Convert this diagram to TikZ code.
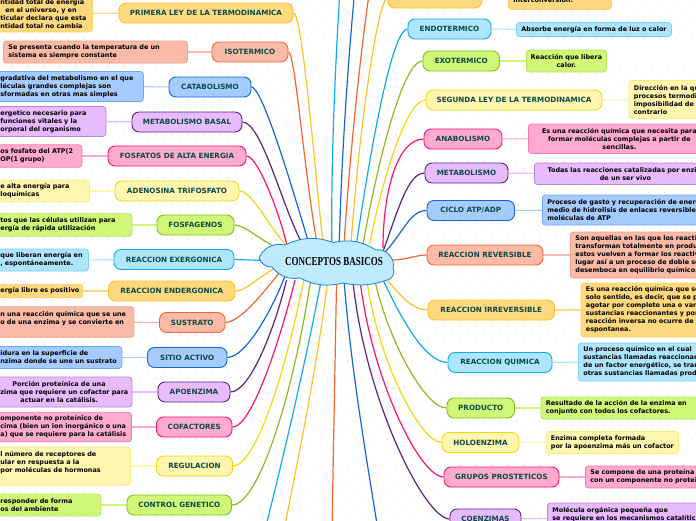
\documentclass[tikz,border=0pt]{standalone}
\usepackage{fontspec}
\usepackage{xcolor}
\usepackage{tikz}
\usetikzlibrary{backgrounds}
\setmainfont{DejaVu Sans}
\newfontfamily\cloudfont{Liberation Serif}

\definecolor{cOrange}{HTML}{FFC125}
\definecolor{cOrangeL}{HTML}{FFD97F}
\definecolor{cSalmon}{HTML}{F5652F}
\definecolor{cSalmonL}{HTML}{F9BBA7}
\definecolor{cBlue}{HTML}{1466D8}
\definecolor{cBlueL}{HTML}{A6CBFF}
\definecolor{cPurple}{HTML}{5C2180}
\definecolor{cPurpleL}{HTML}{E8BBFF}
\definecolor{cPink}{HTML}{FF1177}
\definecolor{cPinkL}{HTML}{FFABD0}
\definecolor{cYellow}{HTML}{F2D80F}
\definecolor{cYellowL}{HTML}{FFF6AF}
\definecolor{cGreen}{HTML}{8ABB1F}
\definecolor{cGreenL}{HTML}{D0F878}
\definecolor{cCyan}{HTML}{11AAEE}
\definecolor{cCyanL}{HTML}{AFE6FF}
\definecolor{cText}{HTML}{0B4A45}

\tikzset{
  topic/.style={draw=#1, fill=#1L, line width=0.9pt, rounded corners=7pt, inner sep=0pt,
    minimum height=20pt, text=cText, font=\fontsize{7.2}{8}\selectfont\bfseries},
  leafbox/.style={draw=#1!35!#1L, fill=#1L, line width=0.8pt, rounded corners=3pt, inner xsep=5pt, inner ysep=0pt,
    anchor=west, text=black, font=\fontsize{6.45}{8}\selectfont\bfseries},
  leaf/.style={leafbox=#1, align=left, execute at begin node={\hyphenpenalty=10000\rightskip=-40pt plus 1fil}},
  leafmid/.style={leafbox=#1, align=center, execute at begin node={\hyphenpenalty=10000}},
  branch/.style={draw=#1, line width=1.2pt},
  twig/.style={draw=#1L, line width=1.1pt}
}

\begin{document}
\begin{tikzpicture}[x=1pt, y=-1pt]
    \useasboundingbox (0,0) rectangle (696,520);
    % left side
    \node[topic=cOrange, minimum width=174pt] (T1) at (206,13) {PRIMERA LEY DE LA TERMODINAMICA};
    \node[leaf=cOrange, text width=87pt, minimum height=37pt] (L1) at (-5,13.5) {ntidad total de energía\\\hspace*{5pt}en el universo, y en\\ticular declara que esta\\ntidad total no cambia};
    \node[topic=cSalmon, minimum width=76pt] (T2) at (250,52) {ISOTERMICO};
    \node[leaf=cSalmon, text width=174pt, minimum height=22pt] (L2) at (3,52) {Se presenta cuando la temperatura de un\\sistema es siempre constante};
    \node[topic=cBlue, minimum width=82pt] (T3) at (210,87) {CATABOLISMO};
    \node[leaf=cBlue, text width=138pt, minimum height=30pt] (L3) at (-5,86.5) {gradativa del metabolismo en el que\\léculas grandes complejas son\\sformadas en otras mas simples};
    \node[topic=cPurple, minimum width=110pt] (T4) at (187,122) {METABOLISMO BASAL};
    \node[leaf=cPurple, text width=100.5pt, minimum height=30pt] (L4) at (-5,121.5) {ergetico necesario para\\funciones vitales y la\\orporal del organismo};
    \node[topic=cPink, minimum width=138pt] (T5) at (177,156) {FOSFATOS DE ALTA ENERGIA};
    \node[leaf=cPink, text width=76.5pt, minimum height=22.5pt] (L5) at (-5,156) {os fosfato del ATP(2\\OP(1 grupo)};
    \node[topic=cYellow, minimum width=124pt] (T6) at (177,191) {ADENOSINA TRIFOSFATO};
    \node[leaf=cYellow, text width=84pt, minimum height=22pt] (L6) at (-5,191) {e alta energía para\\loquímicas};
    \node[topic=cGreen, minimum width=77pt] (T7) at (195.5,225) {FOSFAGENOS};
    \node[leaf=cGreen, text width=126.5pt, minimum height=22.5pt] (L7) at (-5,225) {tos que las células utilizan para\\ergía de rápida utilización};
    \node[topic=cCyan, minimum width=120pt] (T8) at (174,259.5) {REACCION EXERGONICA};
    \node[leaf=cCyan, text width=83pt, minimum height=22pt] (L8) at (-5,260) {que liberan energía en\\, espontáneamente.};
    \node[topic=cOrange, minimum width=126.5pt] (T9) at (171.75,291) {REACCION ENDERGONICA};
    \node[leaf=cOrange, text width=77.5pt, minimum height=13.5pt] (L9) at (-5,291) {ergía libre es positivo};
    \node[topic=cSalmon, minimum width=65.5pt] (T10) at (192.25,322.5) {SUSTRATO};
    \node[leaf=cSalmon, text width=128.5pt, minimum height=30.5pt] (L10) at (-5,322) {n una reacción química que se une\\o de una enzima y se convierte en\\~};
    \node[topic=cBlue, minimum width=79.5pt] (T11) at (187.25,357.5) {SITIO ACTIVO};
    \node[leaf=cBlue, text width=116.5pt, minimum height=22pt] (L11) at (-5,357.5) {idura en la superficie de\\nzima donde se une un sustrato};
    \node[topic=cPurple, minimum width=72pt] (T12) at (194,392) {APOENZIMA};
    \node[leaf=cPurple, text width=126.5pt, minimum height=30pt] (L12) at (-5,392) {\hspace*{12pt}Porción proteínica de una\\zima que requiere un cofactor para\\\hspace*{20pt}actuar en la catálisis.};
    \node[topic=cPink, minimum width=75.5pt] (T13) at (194.25,427) {COFACTORES};
    \node[leaf=cPink, text width=126pt, minimum height=29.5pt] (L13) at (-5,427) {omponente no proteínico de\\cima (bien un ion inorgánico o una\\a) que se requiere para la catálisis};
    \node[topic=cYellow, minimum width=76pt] (T14) at (194.5,466) {REGULACION};
    \node[leaf=cYellow, text width=125pt, minimum height=38pt] (L14) at (-5,466) {l número de receptores de\\ular en respuesta a la\\por moléculas de hormonas\\~};
    \node[topic=cGreen, minimum width=104.5pt] (T15) at (179.25,505) {CONTROL GENETICO};
    \node[leaf=cGreen, text width=95.5pt, minimum height=22pt] (L15) at (-5,505) {responder de forma\\os del ambiente};
    % right side
    \node[topic=cOrange, minimum width=94pt] (R0) at (435,-2) {TERMODINAMICA};
    \node[leaf=cOrange, text width=93pt, minimum height=29.5pt] (M0) at (508,-5.25) {~\\~\\interconversión.};
    \node[topic=cCyan, minimum width=83pt] (R1) at (449.5,29) {ENDOTERMICO};
    \node[leaf=cCyan, text width=145pt, minimum height=14pt] (M1) at (516,29.5) {Absorbe energía en forma de luz o calor};
    \node[topic=cGreen, minimum width=76.5pt] (R2) at (461.25,61) {EXOTERMICO};
    \node[leafmid=cGreen, text width=74pt, inner xsep=3pt, minimum height=22pt] (M2) at (526,61) {Reacción que libera\\calor.};
    \node[topic=cYellow, minimum width=176pt] (R3) at (514,100) {SEGUNDA LEY DE LA TERMODINAMICA};
    \node[leaf=cYellow, text width=100pt, minimum height=38pt] (M3) at (628.5,99.5) {Dirección en la qu\\procesos termodi\\imposibilidad de\\contrario};
    \node[topic=cPink, minimum width=78pt] (R4) at (463,139) {ANABOLISMO};
    \node[leafmid=cPink, text width=172pt, minimum height=29.5pt] (M4) at (528,138.75) {Es una reacción química que necesita para\\formar moléculas complejas a partir de\\sencillas.};
    \node[topic=cPurple, minimum width=83pt] (R5) at (466.5,173) {METABOLISMO};
    \node[leafmid=cPurple, text width=172pt, minimum height=21.5pt] (M5) at (534,173.75) {Todas las reacciones catalizadas por enzim\\de un ser vivo};
    \node[topic=cBlue, minimum width=87.5pt] (R6) at (470.75,210.5) {CICLO ATP/ADP};
    \node[leaf=cBlue, text width=160pt, minimum height=30pt] (M6) at (542,210) {Proceso de gasto y recuperación de energ\\medio de hidrolisis de enlaces reversible\\moléculas de ATP};
    \node[topic=cSalmon, minimum width=116pt] (R7) at (485,255) {REACCION REVERSIBLE};
    \node[leaf=cSalmon, text width=140pt, minimum height=46pt] (M7) at (570,255) {Son aquellas en las que los reacti\\transforman totalmente en produ\\estos vuelven a formar los reactiv\\lugar así a un proceso de doble se\\desemboca en equilibrio químico.};
    \node[topic=cOrange, minimum width=126.5pt] (R8) at (491.25,310) {REACCION IRREVERSIBLE};
    \node[leaf=cOrange, text width=130pt, minimum height=54pt] (M8) at (580.5,310) {Es una reacción química que se\\solo sentido, es decir, que se p\\agotar por completo una o vari\\sustancias reaccionantes y por\\reacción inversa no ocurre de\\espontanea.};
    \node[topic=cCyan, minimum width=104pt] (R9) at (500,362.5) {REACCION QUIMICA};
    \node[leaf=cCyan, text width=130pt, minimum height=38pt] (M9) at (578,362) {Un proceso químico en el cual\\sustancias llamadas reaccionan\\de un factor energético, se tran\\otras sustancias llamadas prod};
    \node[topic=cGreen, minimum width=67.5pt] (R10) at (480.75,408) {PRODUCTO};
    \node[leaf=cGreen, text width=170pt, minimum height=22pt] (M10) at (540.5,408) {Resultado de la acción de la enzima en\\conjunto con todos los cofactores.};
    \node[topic=cYellow, minimum width=77pt] (R11) at (480.5,442.5) {HOLOENZIMA};
    \node[leaf=cYellow, text width=122.5pt, minimum height=22pt] (M11) at (545.5,442.5) {Enzima completa formada\\por la apoenzima más un cofactor};
    \node[topic=cPink, minimum width=115pt] (R12) at (501.5,477) {GRUPOS PROSTETICOS};
    \node[leaf=cPink, text width=120pt, minimum height=22pt] (M12) at (585,477) {Se compone de una proteína\\con un componente no protei};
    \node[topic=cPurple, minimum width=71pt] (R13) at (485.5,519) {COENZIMAS};
    \node[leaf=cPurple, text width=160pt, minimum height=30pt] (M13) at (547,518) {Molécula orgánica pequeña que\\se requiere en los mecanismos catalític\\~};
    % centre
    \node[inner sep=0pt, minimum width=90pt, minimum height=36pt, text=black, font=\cloudfont\bfseries\fontsize{9}{10}\selectfont] (CB) at (334,262) {\scalebox{1}[1.35]{CONCEPTOS BASICOS}};
    \coordinate (Up1) at (340,-12);
    \coordinate (Up2) at (355,-12);
    \coordinate (Up3) at (370,-12);
    \coordinate (Dn1) at (265,530);
    \coordinate (Dn2) at (284,530);
    \coordinate (Dn3) at (332,530);
    \coordinate (Dn4) at (378,530);
    \begin{pgfonlayer}{background}
    \foreach \py in {0,...,60} {
      \foreach \px in {0,...,44} {
        \pgfmathsetmacro{\qx}{4+16*\px+8*mod(\py,2)}
        \pgfmathsetmacro{\qy}{4+8.7*\py}
        \draw[black!6, line width=0.4pt] (\qx-1,\qy) -- (\qx+1,\qy) (\qx,\qy-1) -- (\qx,\qy+1);
      }
    }
    \draw [twig=cOrange] (T1) -- (L1);
    \draw [twig=cSalmon] (T2) -- (L2);
    \draw [twig=cBlue] (T3) -- (L3);
    \draw [twig=cPurple] (T4) -- (L4);
    \draw [twig=cPink] (T5) -- (L5);
    \draw [twig=cYellow] (T6) -- (L6);
    \draw [twig=cGreen] (T7) -- (L7);
    \draw [twig=cCyan] (T8) -- (L8);
    \draw [twig=cOrange] (T9) -- (L9);
    \draw [twig=cSalmon] (T10) -- (L10);
    \draw [twig=cBlue] (T11) -- (L11);
    \draw [twig=cPurple] (T12) -- (L12);
    \draw [twig=cPink] (T13) -- (L13);
    \draw [twig=cYellow] (T14) -- (L14);
    \draw [twig=cGreen] (T15) -- (L15);
    \draw [twig=cOrange] (R0) -- (M0);
    \draw [twig=cCyan] (R1) -- (M1);
    \draw [twig=cGreen] (R2) -- (M2);
    \draw [twig=cYellow] (R3) -- (M3);
    \draw [twig=cPink] (R4) -- (M4);
    \draw [twig=cPurple] (R5) -- (M5);
    \draw [twig=cBlue] (R6) -- (M6);
    \draw [twig=cSalmon] (R7) -- (M7);
    \draw [twig=cOrange] (R8) -- (M8);
    \draw [twig=cCyan] (R9) -- (M9);
    \draw [twig=cGreen] (R10) -- (M10);
    \draw [twig=cYellow] (R11) -- (M11);
    \draw [twig=cPink] (R12) -- (M12);
    \draw [twig=cPurple] (R13) -- (M13);
    % branches, left
    \draw [branch=cOrange] (CB.121.8) .. controls (313,150) and (302,13) .. (T1.east);
    \draw [branch=cSalmon] (CB.133.7) .. controls (304,170) and (295,52) .. (T2.east);
    \draw [branch=cBlue] (CB.144.6) .. controls (290,180) and (262,87) .. (T3.east);
    \draw [branch=cPurple] (CB.150) .. controls (283,210) and (262,122) .. (T4.east);
    \draw [branch=cPink] (CB.159.7) .. controls (280,215) and (258,156) .. (T5.east);
    \draw [branch=cYellow] (CB.160.6) .. controls (268,225) and (252,191) .. (T6.east);
    \draw [branch=cGreen] (CB.168) .. controls (258,240) and (246,225) .. (T7.east);
    \draw [branch=cCyan] (CB.179) -- (T8.east);
    \draw [branch=cOrange] (CB.182.6) .. controls (262,272) and (248,291) .. (T9.east);
    \draw [branch=cSalmon] (CB.184.8) .. controls (262,295) and (240,322) .. (T10.east);
    \draw [branch=cBlue] (CB.196.5) .. controls (272,310) and (246,357) .. (T11.east);
    \draw [branch=cPurple] (CB.201) .. controls (274,330) and (250,392) .. (T12.east);
    \draw [branch=cPink] (CB.205) .. controls (280,340) and (252,427) .. (T13.east);
    \draw [branch=cYellow] (CB.211) .. controls (286,370) and (256,466) .. (T14.east);
    \draw [branch=cGreen] (CB.218) .. controls (292,400) and (258,505) .. (T15.east);
    % branches, right
    \draw [branch=cOrange] (CB.47.7) .. controls (360,120) and (378,0) .. (R0.west);
    \draw [branch=cCyan] (CB.39.2) .. controls (375,120) and (394,29) .. (R1.west);
    \draw [branch=cGreen] (CB.32.9) .. controls (378,160) and (403,61) .. (R2.west);
    \draw [branch=cYellow] (CB.27.6) .. controls (380,190) and (405,100) .. (R3.west);
    \draw [branch=cPink] (CB.16.6) .. controls (383,190) and (398,139) .. (R4.west);
    \draw [branch=cPurple] (CB.12.1) .. controls (398,210) and (408,173) .. (R5.west);
    \draw [branch=cBlue] (CB.9.2) .. controls (402,235) and (410,210) .. (R6.west);
    \draw [branch=cSalmon] (CB.2.4) .. controls (405,261) and (415,255) .. (R7.west);
    \draw [branch=cOrange] (CB.345.3) .. controls (400,295) and (412,310) .. (R8.west);
    \draw [branch=cCyan] (CB.340.9) .. controls (402,320) and (425,362) .. (R9.west);
    \draw [branch=cGreen] (CB.336) .. controls (388,340) and (425,408) .. (R10.west);
    \draw [branch=cYellow] (CB.331.5) .. controls (378,360) and (420,442) .. (R11.west);
    \draw [branch=cPink] (CB.325.8) .. controls (372,380) and (420,477) .. (R12.west);
    \draw [branch=cPurple] (CB.316.4) .. controls (365,400) and (425,519) .. (R13.west);
    % branches leaving the page
    \draw [branch=cCyan] (CB.97.8) .. controls (331,140) and (337,40) .. (Up1);
    \draw [branch=cBlue] (CB.74.7) .. controls (342,140) and (350,40) .. (Up2);
    \draw [branch=cSalmon] (CB.61.4) .. controls (350,150) and (362,40) .. (Up3);
    \draw [branch=cCyan] (CB.235) .. controls (306,360) and (285,450) .. (Dn1);
    \draw [branch=cOrange] (CB.251.6) .. controls (318,360) and (300,450) .. (Dn2);
    \draw [branch=cSalmon] (CB.278) -- (Dn3);
    \draw [branch=cBlue] (CB.299.7) .. controls (350,360) and (365,450) .. (Dn4);
    % cloud
    \draw[draw=cBlue!60!cCyan, fill=cCyanL!80!white, line width=0.8pt]
      (259,258) to[bend left=40] (285,245) to[bend left=22] (333.5,242.5) to[bend left=22] (376,250)
      to[bend left=60] (393,268) to[bend left=60] (387,280) to[bend left=15] (343,283)
      to[bend left=20] (300,278) to[bend left=30] (272,267) to[bend left=35] cycle;
    \end{pgfonlayer}
\end{tikzpicture}
\end{document}
